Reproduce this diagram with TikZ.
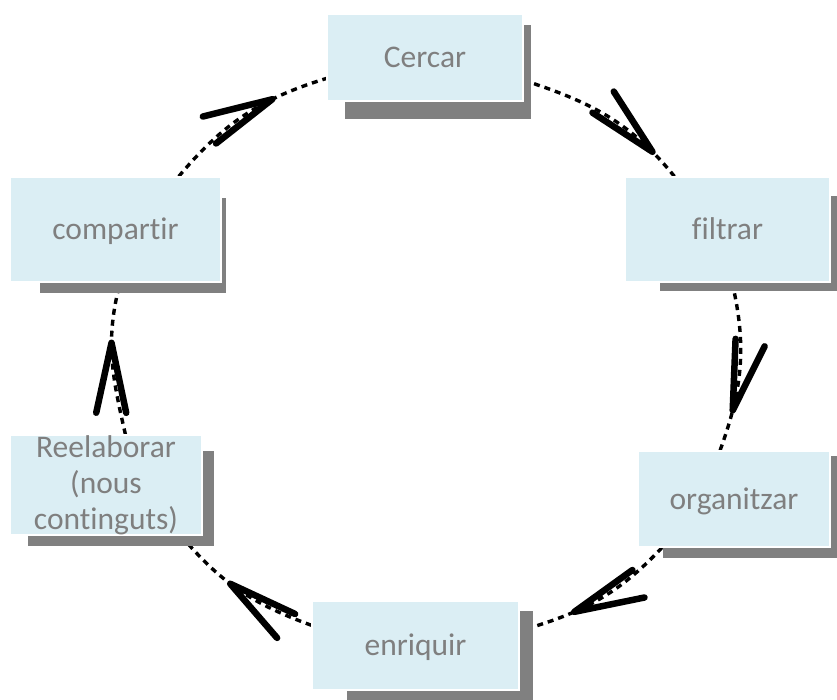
\documentclass[tikz,border=0pt]{standalone}
\usepackage{fontspec}
\setmainfont{Carlito}[Ligatures=NoCommon]
\usetikzlibrary{calc,decorations.markings}
\pgfdeclarelayer{background}
\pgfsetlayers{background,main}
\definecolor{boxfill}{HTML}{DBEEF4}
\definecolor{boxtext}{HTML}{7F7F7F}
\definecolor{shadowgray}{HTML}{808080}
\tikzset{
  stagebox/.style={rectangle, fill=boxfill, draw=white, line width=1.2pt, inner sep=0pt,
    text=boxtext, font=\fontsize{31.5}{36}\selectfont, align=center},
  oneline/.style={text height=20pt, text depth=0pt},
  flowline/.style={line width=3.4pt, dash pattern=on 6pt off 5pt, black},
  vtip/.style={decoration={markings, mark=at position -#1 with {%
      \draw[solid, line width=6.5pt, line cap=round, line join=round]
        (-70pt,15pt) -- (0pt,0pt) -- (-70pt,-15pt);}},
    postaction={decorate}},
}
\newcommand{\shadowof}[5]{%
  \fill[shadowgray] ($(#1.north west)+(#2,-#3)$) rectangle ($(#1.south east)+(#4,-#5)$);}
\begin{document}
\begin{tikzpicture}[x=1pt,y=1pt]
\useasboundingbox (0,0) rectangle (837,699);
\node[stagebox, oneline, minimum width=196pt, minimum height=87pt] (cercar) at (425,641.5) {Cercar};
\node[stagebox, oneline, minimum width=205pt, minimum height=105pt] (filtrar) at (727.5,469.5) {filtrar};
\node[stagebox, oneline, minimum width=192pt, minimum height=96pt] (organitzar) at (734,200) {organitzar};
\node[stagebox, oneline, minimum width=207pt, minimum height=89pt] (enriquir) at (415.5,53.5) {enriquir};
\node[stagebox, minimum width=192pt, minimum height=100pt] (reelaborar) at (106,214) {Reelaborar\\(nous\\continguts)};
\node[stagebox, oneline, minimum width=211pt, minimum height=105pt] (compartir) at (115.5,469.5) {compartir};
\begin{pgfonlayer}{background}
\draw[flowline, vtip=33pt] (cercar.-13) to[out=-18, in=129] (filtrar.135);
\draw[flowline, vtip=42pt] (filtrar.-85) to[out=-77, in=70] (organitzar.106);
\draw[flowline, vtip=58pt] (organitzar.-146) to[out=-133, in=16] (enriquir.8.5);
\draw[flowline, vtip=69pt] (enriquir.169) to[out=160, in=-50] (reelaborar.-34);
\draw[flowline, vtip=61pt] (reelaborar.69) to[out=103, in=-105] (compartir.-85);
\draw[flowline, vtip=58pt] (compartir.40) to[out=50, in=-163] (cercar.-168);
\shadowof{cercar}{19}{12}{7}{17}
\shadowof{compartir}{31}{22}{4}{10}
\shadowof{filtrar}{36}{20}{7}{8}
\shadowof{organitzar}{26}{6}{7}{10}
\shadowof{enriquir}{36}{11}{13}{9}
\shadowof{reelaborar}{19}{17}{11}{10}
\end{pgfonlayer}
\end{tikzpicture}
\end{document}
